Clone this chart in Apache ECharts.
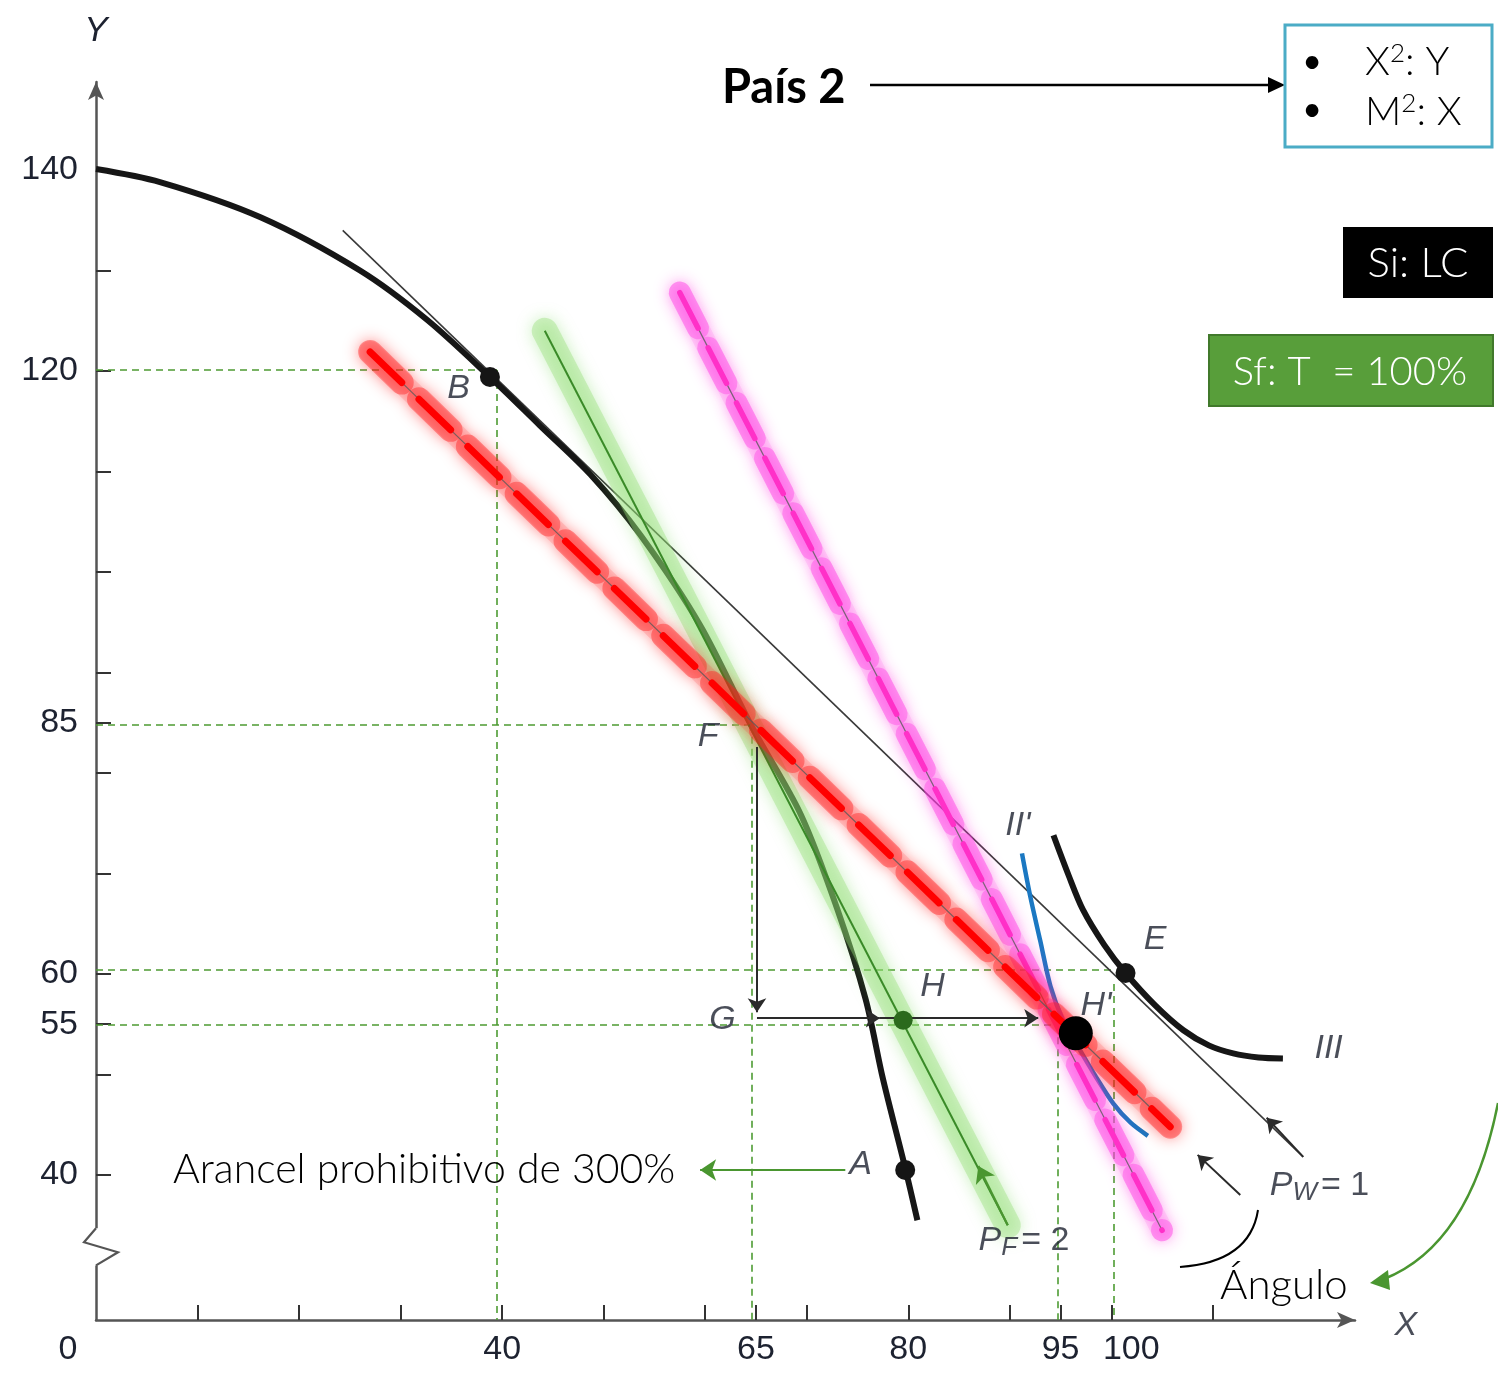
<!DOCTYPE html>
<html><head><meta charset="utf-8">
<script src="https://cdn.jsdelivr.net/npm/echarts@6/dist/echarts.min.js"></script>
<style>html,body{margin:0;padding:0;background:#fff}#c{width:1498px;height:1376px}</style>
</head><body><div id="c"></div>
<script>
// ---- axis ticks / labels ----
const xTickValues = [10,20,30,40,50,60,65,70,80,90,95,100,110];
const xLabelValues = [0,40,65,80,95,100];
const yTickValues = [40,50,55,60,70,80,85,90,100,110,120,130,140];
const yLabelValues = [40,55,60,85,120,140];
const xMin = 0, xMax = 124, yMin = 25.57, yMax = 148.76;

// ---- curves ----
const ppfCurve = [[0,140.1],[6.3,138.8],[16.2,135.3],[26.0,130.0],[32.6,125.1],[38.8,119.4],[43.7,114.6],[48.7,109.7],[53.6,103.7],[59.5,94.7],[64.6,84.6],[69.4,75.9],[73.0,66.5],[75.8,57.5],[77.5,49.6],[79.7,40.7],[80.9,35.5]];
const curveII = [[91.2,72.0],[92.0,67.8],[93.0,63.3],[94.0,58.8],[95.2,55.5],[96.7,52.8],[98.4,49.9],[100.2,47.1],[101.9,45.2],[103.6,43.9]];
const curveIII = [[94.3,73.8],[95.8,69.8],[97.2,66.4],[99.3,62.9],[101.4,60.1],[104.3,56.9],[107.1,54.4],[109.6,52.9],[112.0,52.1],[114.5,51.7],[116.9,51.6]];

// ---- price lines ----
const lineWorld = [[24.3,134.0],[118.9,41.8]];     // Pw = 1
const lineForeign = [[44.2,124.0],[89.8,35.0]];   // PF = 2
const lineRed = [[27.0,121.9],[105.8,44.8]];
const lineMagenta = [[57.5,127.8],[105.0,34.5]];

// ---- reference dashed lines ----
const refSegments = [
  [[0,120.1],[39.5,120.1]], [[39.5,120.1],[39.5,yMin]],
  [[0,84.8],[64.6,84.8]],   [[64.6,84.8],[64.6,yMin]],
  [[0,60.4],[100.2,60.4]],  [[100.2,59.0],[100.2,yMin]],
  [[0,54.9],[94.7,54.9]],   [[94.7,54.9],[94.7,yMin]]
];

// ---- arrows ----
const blackArrows = [
  [[65.1,82.6],[65.1,56.2]],
  [[65.1,55.6],[77.2,55.6]],
  [[77.2,55.6],[92.8,55.6]],
  [[112.7,38.0],[108.5,42.0]],
  [[118.9,41.8],[115.3,45.7]]
];
const greenArrows = [
  [[73.8,40.5],[59.5,40.5]],
  [[89.8,35.0],[86.9,40.9]]
];

// ---- points ----
const blackPoints = [[38.8,119.4],[79.7,40.5],[101.4,60.1]];
const hPoint = [[79.5,55.4]];
const hPrimePoint = [[96.5,54.1]];

// ---- point labels ----
const pointLabels = [
  ['B',35.7,118.3],['F',60.3,83.6],['G',61.7,55.5],['H',82.4,58.8],
  ["H'",98.5,56.9],['E',104.3,63.4],['A',75.3,41.0],["II'",90.8,74.8],['III',121.4,52.6],
  ['PW',120.5,38.9],['PF',91.4,33.5],['X',129.0,25.0]
];

const chart = echarts.init(document.getElementById('c'));
const LBL = 'Liberation Sans, Arial, sans-serif';
const TXT = 'Lato, "Open Sans", sans-serif';
const INK = '#1d2230';

function seg(list){ return list.map(c => ({coords: c})); }

const labelData = pointLabels.map(p => {
  let fmt;
  if (p[0] === 'PW') fmt = '{i|P}{s|W}{n|= 1}';
  else if (p[0] === 'PF') fmt = '{i|P}{s|F}{n|= 2}';
  else fmt = '{i|' + p[0] + '}';
  return {value:[p[1],p[2]], label:{formatter: fmt}};
});

const redDash = [44,24], magDash = [40,22];

const option = {
  animation:false,
  grid:{left:96, right:143, top:82, bottom:56},
  xAxis:{type:'value', min:xMin, max:xMax,
    axisLine:{show:true, lineStyle:{color:'#555', width:2.5}, symbol:['none','arrow'], symbolSize:[12,18]},
    axisTick:{show:true, inside:true, length:15, customValues:xTickValues, lineStyle:{color:'#333', width:2}},
    axisLabel:{customValues:xLabelValues, margin:13, fontFamily:LBL, fontSize:34, color:INK,
      formatter: v => v === 0 ? '{z|0}' : (v === 100 ? '{r|100}' : String(v)),
      rich:{z:{fontFamily:LBL, fontSize:34, color:INK, padding:[0,56,0,0]},
            r:{fontFamily:LBL, fontSize:34, color:INK, padding:[0,0,0,40]}}},
    splitLine:{show:false}
  },
  yAxis:{type:'value', min:yMin, max:yMax,
    name:'Y', nameLocation:'end', nameGap:33,
    nameTextStyle:{fontFamily:LBL, fontStyle:'italic', fontSize:35, color:INK, align:'center'},
    axisLine:{show:true, lineStyle:{color:'#555', width:2.5}, symbol:['none','arrow'], symbolSize:[12,18]},
    axisTick:{show:true, inside:true, length:15, customValues:yTickValues, lineStyle:{color:'#333', width:2}},
    axisLabel:{customValues:yLabelValues, margin:18, fontFamily:LBL, fontSize:34, color:INK},
    splitLine:{show:false}
  },
  series:[
    {type:'lines', coordinateSystem:'cartesian2d', z:1, silent:true,
      lineStyle:{color:'#4d9b32', width:1.6, type:[7,5], opacity:1}, data:seg(refSegments)},
    {type:'line', data:lineWorld, z:2, symbol:'none', lineStyle:{color:'#3a3a3a', width:1.6}},
    {type:'line', data:ppfCurve, z:3, symbol:'none', smooth:0.3, lineStyle:{color:'#161616', width:6}},
    {type:'line', data:curveIII, z:3, symbol:'none', smooth:0.3, lineStyle:{color:'#161616', width:6}},
    {type:'line', data:curveII, z:3, symbol:'none', smooth:0.3, lineStyle:{color:'#1b78c2', width:4.5}},
    // green PF line with glow
    {type:'line', data:lineForeign, z:4, symbol:'none', lineStyle:{color:'rgba(150,222,120,0.4)', width:26, cap:'round', shadowBlur:16, shadowColor:'rgba(120,215,90,0.9)'}},
    {type:'line', data:lineForeign, z:5, symbol:'none', lineStyle:{color:'#3a8a28', width:2}},
    // magenta dashed with glow
    {type:'line', data:lineMagenta, z:6, symbol:'none', lineStyle:{color:'rgba(255,80,225,0.14)', width:22, cap:'round', shadowBlur:12, shadowColor:'rgba(255,40,220,0.45)'}},
    {type:'line', data:lineMagenta, z:6, symbol:'none', lineStyle:{color:'rgba(255,70,228,0.42)', width:22, type:magDash, cap:'round', shadowBlur:16, shadowColor:'rgba(255,30,220,0.95)'}},
    {type:'line', data:lineMagenta, z:6, symbol:'none', lineStyle:{color:'rgba(90,90,90,0.8)', width:1.2}},
    {type:'line', data:lineMagenta, z:7, symbol:'none', lineStyle:{color:'#ff30c8', width:5.5, type:magDash, cap:'round'}},
    // red dashed with glow
    {type:'line', data:lineRed, z:8, symbol:'none', lineStyle:{color:'rgba(255,40,40,0.14)', width:22, cap:'round', shadowBlur:12, shadowColor:'rgba(255,0,0,0.45)'}},
    {type:'line', data:lineRed, z:8, symbol:'none', lineStyle:{color:'rgba(255,30,30,0.42)', width:24, type:redDash, cap:'round', shadowBlur:16, shadowColor:'rgba(255,0,0,0.95)'}},
    {type:'line', data:lineRed, z:8, symbol:'none', lineStyle:{color:'rgba(90,90,90,0.8)', width:1.2}},
    {type:'line', data:lineRed, z:9, symbol:'none', lineStyle:{color:'#ff0000', width:7, type:redDash, cap:'round'}},
    // arrows
    {type:'lines', coordinateSystem:'cartesian2d', z:10, silent:true, symbol:['none','arrow'], symbolSize:[0,14],
      lineStyle:{color:'#2a2a2a', width:2, opacity:1}, data:seg(blackArrows)},
    {type:'lines', coordinateSystem:'cartesian2d', z:10, silent:true, symbol:['none','arrow'], symbolSize:[0,16],
      lineStyle:{color:'#4a9630', width:2.2, opacity:1}, data:seg(greenArrows)},
    // points
    {type:'scatter', data:blackPoints, z:11, symbolSize:20, itemStyle:{color:'#151515', opacity:1}},
    {type:'scatter', data:hPoint, z:11, symbolSize:19, itemStyle:{color:'#2b6a1c', opacity:1}},
    {type:'scatter', data:hPrimePoint, z:12, symbolSize:34, itemStyle:{color:'#000', opacity:1}},
    // labels
    {type:'scatter', data:labelData, z:13, symbolSize:1, itemStyle:{color:'rgba(0,0,0,0)'}, silent:true, clip:false,
      label:{show:true, position:'inside',
        rich:{
          i:{fontFamily:LBL, fontStyle:'italic', fontSize:34, color:INK},
          s:{fontFamily:LBL, fontStyle:'italic', fontSize:26, color:INK, padding:[14,4,0,0]},
          n:{fontFamily:LBL, fontSize:34, color:INK}
        }}}
  ]
};
chart.setOption(option);

// ---- annotations ----
const p1 = chart.convertToPixel({gridIndex:0}, [0,34.7]);
const p2 = chart.convertToPixel({gridIndex:0}, [0,31.0]);
const ax = p1[0];
const supRich = {b:{fontFamily:TXT, fontWeight:300, fontSize:40, fill:'#000'}, u:{fontFamily:TXT, fontWeight:300, fontSize:26, fill:'#000', padding:[0,0,16,0]}};
const graphic = [
  {type:'rect', shape:{x:ax-4, y:p1[1], width:8, height:p2[1]-p1[1]}, style:{fill:'#fff'}, z:20},
  {type:'polyline', shape:{points:[[ax,p1[1]],[ax-12,p1[1]+14],[ax+22,p1[1]+24],[ax,p2[1]]]}, style:{stroke:'#555', lineWidth:2.2, fill:null}, z:21},
  // Pais 2
  {type:'text', x:722, y:88, style:{text:'País 2', fontFamily:TXT, fontWeight:'bold', fontSize:47, fill:'#000', verticalAlign:'middle'}, z:30},
  {type:'line', shape:{x1:870, y1:85, x2:1272, y2:85}, style:{stroke:'#000', lineWidth:2.5}, z:30},
  {type:'polygon', shape:{points:[[1285,85],[1268,77],[1268,93]]}, style:{fill:'#000'}, z:30},
  {type:'rect', shape:{x:1285, y:25, width:207, height:122}, style:{fill:'#fff', stroke:'#4bacc6', lineWidth:3}, z:30},
  {type:'text', x:1312, y:62, style:{text:'•', fontFamily:TXT, fontSize:34, fill:'#000', align:'center', verticalAlign:'middle'}, z:31},
  {type:'text', x:1312, y:110, style:{text:'•', fontFamily:TXT, fontSize:34, fill:'#000', align:'center', verticalAlign:'middle'}, z:31},
  {type:'text', x:1365, y:62, style:{text:'{b|X}{u|2}{b|: Y}', rich:supRich, align:'left', verticalAlign:'middle'}, z:31},
  {type:'text', x:1365, y:112, style:{text:'{b|M}{u|2}{b|: X}', rich:supRich, align:'left', verticalAlign:'middle'}, z:31},
  {type:'rect', shape:{x:1343, y:227, width:150, height:71}, style:{fill:'#000'}, z:30},
  {type:'text', x:1418, y:263, style:{text:'Si: LC', fontFamily:TXT, fontWeight:300, fontSize:42, fill:'#fff', align:'center', verticalAlign:'middle'}, z:31},
  {type:'rect', shape:{x:1209, y:335, width:284, height:71}, style:{fill:'#589e3a', stroke:'#41792b', lineWidth:2}, z:30},
  {type:'text', x:1350, y:372, style:{text:'Sf: T  = 100%', fontFamily:TXT, fontWeight:300, fontSize:40, fill:'#fff', align:'center', verticalAlign:'middle'}, z:31},
  // callouts
  {type:'text', x:173, y:1170, style:{text:'Arancel prohibitivo de 300%', fontFamily:TXT, fontWeight:300, fontSize:41, fill:'#000', align:'left', verticalAlign:'middle'}, z:31},
  {type:'text', x:1220, y:1285, style:{text:'Ángulo', fontFamily:TXT, fontWeight:300, fontSize:42, fill:'#000', align:'left', verticalAlign:'middle'}, z:31},
  {type:'bezierCurve', shape:{x1:1258, y1:1210, cpx1:1250, cpy1:1262, x2:1180, y2:1267}, style:{stroke:'#000', lineWidth:2, fill:null}, z:31},
  {type:'bezierCurve', shape:{x1:1498, y1:1103, cpx1:1470, cpy1:1245, x2:1384, y2:1279}, style:{stroke:'#4a9630', lineWidth:2.5, fill:null}, z:31},
  {type:'polygon', shape:{points:[[1370,1283],[1388,1270],[1390,1290]]}, style:{fill:'#4a9630'}, z:31}
];
chart.setOption({graphic: graphic});
</script>
</body></html>
